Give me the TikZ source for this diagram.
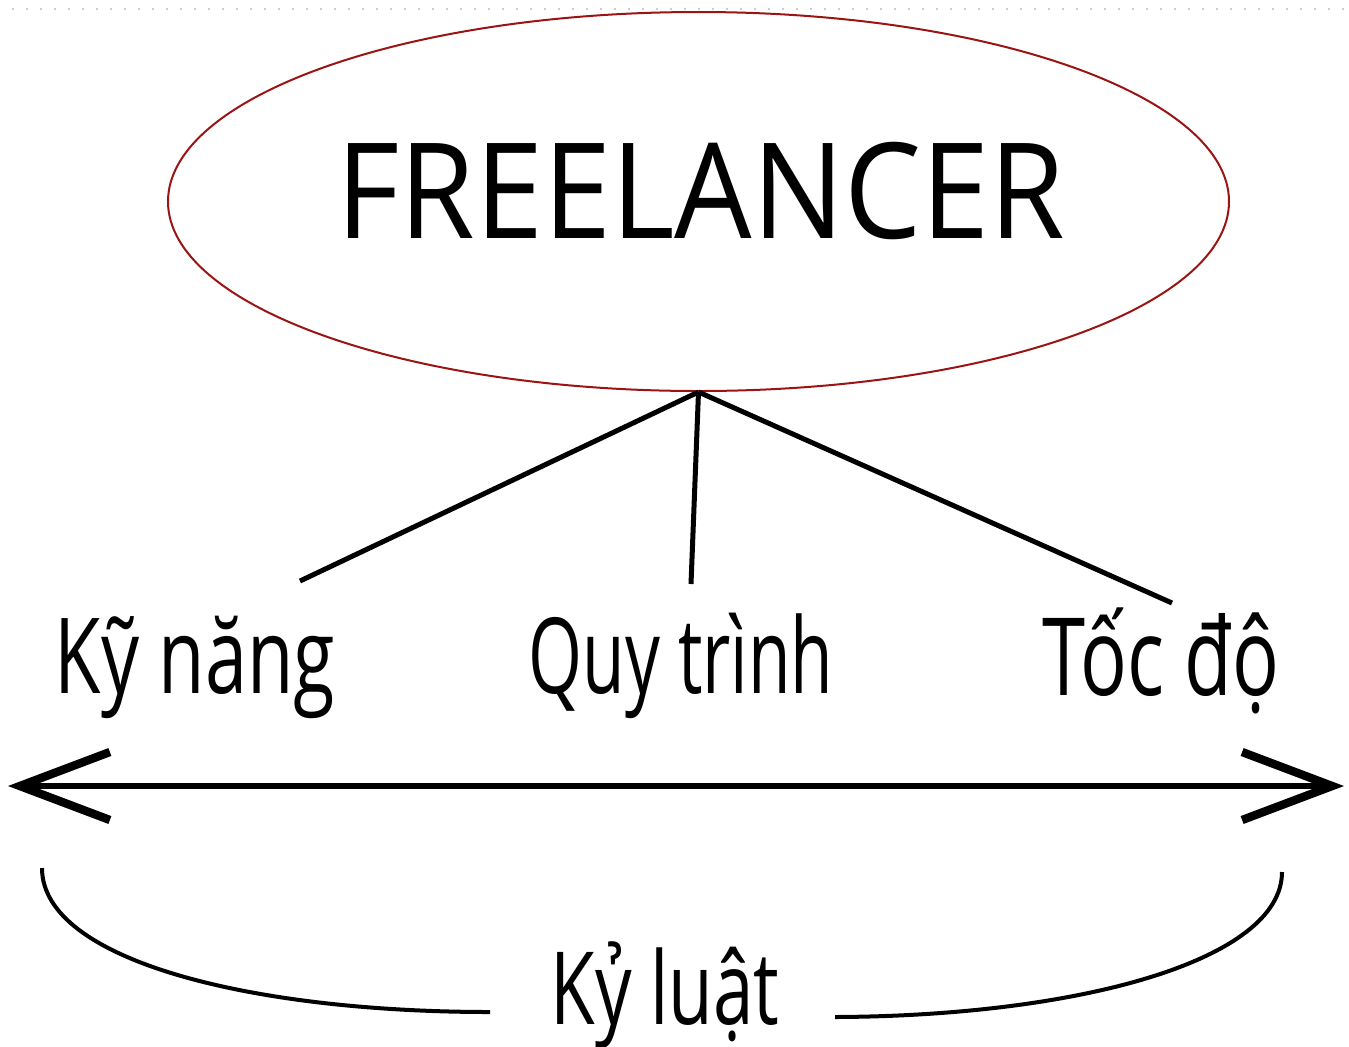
\documentclass[tikz,border=0pt]{standalone}
\usepackage{fontspec}
\usepackage{tikz}
\usetikzlibrary{shapes.geometric,arrows.meta}
\newfontfamily\titlefont[FakeStretch=0.92]{Open Sans}
\newfontfamily\labelfont[FakeStretch=0.72]{Open Sans}
\newfontfamily\slimfont[FakeStretch=0.66]{Open Sans}
\definecolor{ovalred}{RGB}{155,20,20}

\begin{document}
\begin{tikzpicture}[x=0.5pt,y=-0.5pt,
        oval/.style={ellipse,draw=ovalred,line width=1pt,minimum width=530.5pt,minimum height=189.5pt,inner sep=0pt},
        word/.style={anchor=base,inner sep=0pt,font=\labelfont\fontsize{52.5}{60}\selectfont},
        branch/.style={line width=2.5pt},
        axis/.style={line width=2.8pt,{Straight Barb[length=45pt,width=34pt,line width=4.2pt]}-{Straight Barb[length=45pt,width=34pt,line width=4.2pt]}},
        bracket/.style={line width=2pt}]
        \useasboundingbox (0,0) rectangle (1349,1046);
        \draw[gray!40,line width=1pt,dash pattern=on 1pt off 6pt] (12,9) -- (1349,9);
        % the oval with its title
        \node[oval] (free) at (698.5,201.5) {};
        \node[anchor=base,inner sep=0pt,font=\titlefont\fontsize{66.5}{70}\selectfont] (title) at (701,238) {FREELANCER};
        % three branches
        \node[word] (skill) at (195,693) {Kỹ năng};
        \node[word,font=\slimfont\fontsize{52.5}{60}\selectfont] (flow) at (681,693) {Quy trình};
        \node[word,font=\labelfont\fontsize{54}{60}\selectfont] (speed) at (1161,695) {Tốc độ};
        \coordinate (skilltop) at (300,581);
        \coordinate (flowtop) at (691,584);
        \coordinate (speedtop) at (1172,603);
        \foreach \t in {skilltop,flowtop,speedtop}
        \draw[branch] (free.south) -- (\t);
        % double arrow
        \coordinate (lft) at (8,786);
        \coordinate (rgt) at (1344,786);
        \draw[axis] (lft) -- (rgt);
        % the bracket below
        \node[word,font=\labelfont\fontsize{50.5}{55}\selectfont] (rule) at (665,1024) {Kỷ luật};
        \coordinate (bl) at (42,868);
        \coordinate (br) at (1282,872);
        \coordinate (ml) at (490,1012);
        \coordinate (mr) at (835,1017);
        \draw[bracket] (bl) .. controls (42,960) and (250,1012) .. (ml);
        \draw[bracket] (mr) .. controls (1080,1016) and (1282,960) .. (br);
\end{tikzpicture}
\end{document}
